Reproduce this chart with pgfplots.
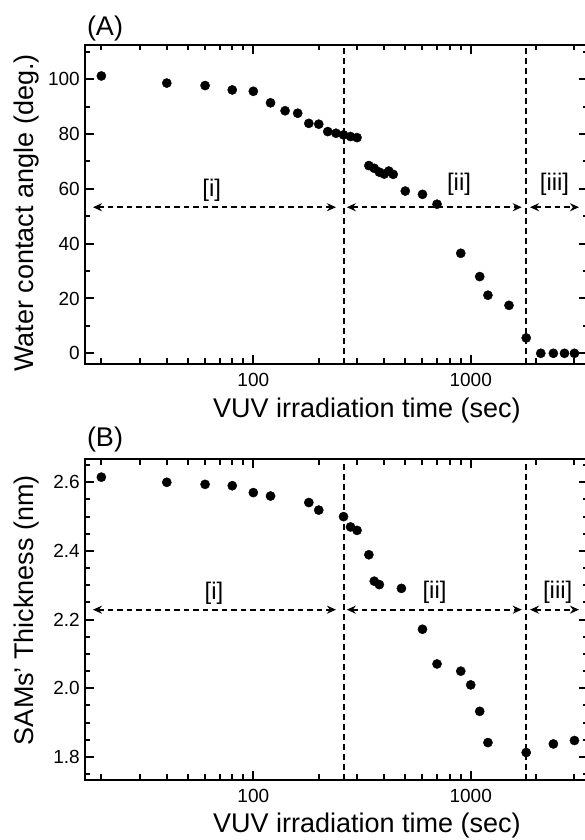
\documentclass[border=0pt]{standalone}
\usepackage{pgfplots}
\pgfplotsset{compat=1.18}
\usepackage{fontspec}
\setmainfont{Liberation Sans}
\usetikzlibrary{arrows.meta}

\pgfplotstableread{
x y
20 101.2
40 98.6
60 97.7
80 96.1
100 95.6
120 91.4
140 88.5
160 87.6
180 83.9
200 83.6
220 80.9
240 80.3
260 79.7
280 79.1
300 78.7
340 68.5
360 67.5
380 66.1
400 65.4
420 66.5
440 65.3
500 59.2
600 58.0
700 54.4
900 36.5
1100 28.0
1200 21.2
1500 17.5
1800 5.6
2100 0
2400 0
2700 0
3000 0
}\tableA

\pgfplotstableread{
x y
20 2.615
40 2.600
60 2.594
80 2.590
100 2.570
120 2.560
180 2.541
200 2.519
260 2.500
280 2.470
300 2.460
340 2.389
360 2.312
380 2.302
480 2.291
600 2.172
700 2.071
900 2.050
1000 2.010
1100 1.933
1200 1.842
1800 1.813
2400 1.838
3000 1.848
}\tableB

\tikzset{
  dline/.style={black, line width=2pt, dash pattern=on 6pt off 4pt},
  darr/.style={black, line width=2pt, dash pattern=on 5.5pt off 4pt, {Stealth[length=9pt,width=8pt]}-{Stealth[length=9pt,width=8pt]}},
}

\begin{document}
\begin{tikzpicture}

% Panel A
\begin{axis}[scale only axis, xmode=log, log basis x=10,
    width=503pt, xmin=16.82, xmax=3464,
    xtick={100,1000}, xticklabels={100,1000},
    minor xtick={20,30,40,50,60,70,80,90,200,300,400,500,600,700,800,900,2000,3000},
    tick align=inside, tick pos=both,
    major tick length=9pt, minor tick length=5.5pt,
    axis line style={line width=2.4pt},
    every tick/.style={line width=2pt, black},
    ticklabel style={font=\fontsize{19}{19}\selectfont},
    xticklabel style={inner sep=2pt, yshift=-7pt},
    yticklabel style={inner sep=2pt, xshift=-3pt},
  at={(85pt,476pt)}, anchor=south west,
  height=319pt, ymin=-3.9, ymax=112.5,
  ytick={0,20,40,60,80,100}, yticklabels={0,20,40,60,80,100},
  minor ytick={10,30,50,70,90,110}]
\addplot[dline] coordinates {(260,-3.9) (260,112.5)};
\addplot[dline] coordinates {(1800,-3.9) (1800,112.5)};
\addplot[darr] coordinates {(18.3,53.3) (240,53.3)};
\addplot[darr] coordinates {(269,53.3) (1717,53.3)};
\addplot[darr] coordinates {(1874,53.3) (3148,53.3)};
\addplot[only marks, mark=*, mark size=4.6pt, black] table[x=x,y=y] {\tableA};
\end{axis}

% Panel B
\begin{axis}[scale only axis, xmode=log, log basis x=10,
    width=503pt, xmin=16.82, xmax=3464,
    xtick={100,1000}, xticklabels={100,1000},
    minor xtick={20,30,40,50,60,70,80,90,200,300,400,500,600,700,800,900,2000,3000},
    tick align=inside, tick pos=both,
    major tick length=9pt, minor tick length=5.5pt,
    axis line style={line width=2.4pt},
    every tick/.style={line width=2pt, black},
    ticklabel style={font=\fontsize{19}{19}\selectfont},
    xticklabel style={inner sep=2pt, yshift=-7pt},
    yticklabel style={inner sep=2pt, xshift=-3pt},
  at={(85pt,60pt)}, anchor=south west,
  height=320.7pt, ymin=1.733, ymax=2.667,
  ytick={1.8,2.0,2.2,2.4,2.6}, yticklabels={1.8,2.0,2.2,2.4,2.6},
  minor ytick={1.75,1.85,1.9,1.95,2.05,2.1,2.15,2.25,2.3,2.35,2.45,2.5,2.55,2.65}]
\addplot[dline] coordinates {(260,1.733) (260,2.667)};
\addplot[dline] coordinates {(1800,1.733) (1800,2.667)};
\addplot[darr] coordinates {(18.3,2.229) (240,2.229)};
\addplot[darr] coordinates {(269,2.229) (1717,2.229)};
\addplot[darr] coordinates {(1874,2.229) (3148,2.229)};
\addplot[only marks, mark=*, mark size=4.6pt, black] table[x=x,y=y] {\tableB};
\end{axis}

% Text
\def\lab{\fontsize{27}{27}\selectfont}
\def\reg{\fontsize{24}{24}\selectfont}
\node[font=\lab] at (105pt,811pt) {(A)};
\node[font=\lab] at (105pt,400pt) {(B)};
\node[font=\reg] at (211.7pt,650pt) {[i]};
\node[font=\reg] at (459pt,656pt) {[ii]};
\node[font=\reg] at (554.5pt,656pt) {[iii]};
\node[font=\reg] at (214pt,247pt) {[i]};
\node[font=\reg] at (434.5pt,247.5pt) {[ii]};
\node[font=\reg] at (557.7pt,247.5pt) {[iii]};
\node[font=\lab, anchor=base, inner sep=0pt] at (367pt,422pt) {VUV irradiation time (sec)};
\node[font=\lab, anchor=base, inner sep=0pt] at (367pt,7pt) {VUV irradiation time (sec)};
\node[font=\lab, anchor=base, rotate=90, inner sep=0pt] at (33pt,627pt) {Water contact angle (deg.)};
\node[font=\lab, anchor=base, rotate=90, inner sep=0pt] at (33pt,230pt) {SAMs’ Thickness (nm)};

\pgfresetboundingbox
\path[use as bounding box] (0pt,0pt) rectangle (584pt,840pt);
\end{tikzpicture}
\end{document}
